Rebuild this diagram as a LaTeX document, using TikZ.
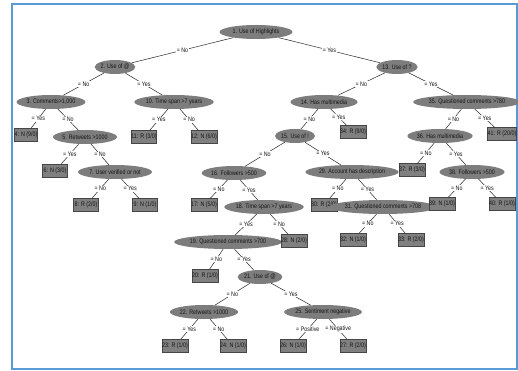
\documentclass[tikz,border=0pt]{standalone}
\usepackage{fontspec}
\newfontfamily\nfont[FakeStretch=0.82]{Liberation Sans}
\usetikzlibrary{shapes.geometric}
\definecolor{frameblue}{RGB}{91,155,213}
\definecolor{ellgray}{RGB}{125,125,125}
\definecolor{boxgray}{RGB}{128,128,128}
\definecolor{boxline}{RGB}{70,70,70}
\definecolor{txt}{RGB}{20,20,20}
\begin{document}
\begin{tikzpicture}[x=1pt,y=-1pt,
  every node/.style={font=\nfont\fontsize{6.5}{7}\selectfont, text=txt},
  dec/.style={ellipse, fill=ellgray, minimum height=14pt, inner sep=0pt},
  leaf/.style={rectangle, fill=boxgray, draw=boxline, line width=0.4pt, minimum width=25pt, minimum height=13pt, inner sep=0pt},
  edge/.style={draw=black!85, line width=0.5pt},
  lab/.style={fill=white, inner sep=0.6pt}]
\useasboundingbox (0,0) rectangle (518,371);
\draw[frameblue, line width=1.6pt] (12,4) rectangle (517,369);

% decision nodes and leaves
\node[dec, minimum width=73pt] (n1) at (256,32) {1. Use of Highlights};
\node[dec, minimum width=40pt] (n2) at (115,67) {2. Use of @};
\node[dec, minimum width=41pt] (n13) at (397,67) {13. Use of ?};
\node[dec, minimum width=59pt] (n3) at (51,102) {3. Comments>1,000};
\node[dec, minimum width=79pt] (n10) at (174,102) {10. Time span >7 years};
\node[dec, minimum width=67pt] (n14) at (324,102) {14. Has multimedia};
\node[dec, minimum width=100pt] (n35) at (467,102) {35. Questioned comments >780};
\node[leaf, minimum width=22pt] (n4) at (26,135) {4: N (9/0)};
\node[dec, minimum width=64pt] (n5) at (85,137) {5. Retweets >1000};
\node[leaf] (n11) at (144,137) {11: R (3/0)};
\node[leaf] (n12) at (204,137) {12: N (6/0)};
\node[dec, minimum width=40pt] (n15) at (295,136) {15. Use of !};
\node[leaf] (n34) at (353,132) {34: R (9/0)};
\node[dec, minimum width=65pt] (n36) at (440,136) {36. Has multimedia};
\node[leaf, minimum width=28pt] (n41) at (502,134) {41: R (20/0)};
\node[leaf] (n6) at (55,171) {6: N (3/0)};
\node[dec, minimum width=74pt] (n7) at (115,172) {7. User verified or not};
\node[dec, minimum width=62pt] (n16) at (234,173) {16. Followers >500};
\node[dec, minimum width=91pt] (n29) at (352,172) {29. Account has description};
\node[leaf] (n37) at (412,170) {37: R (3/0)};
\node[dec, minimum width=65pt] (n38) at (472,172) {38. Followers >500};
\node[leaf] (n8) at (86,205) {8: R (2/0)};
\node[leaf] (n9) at (145,205) {9: N (1/0)};
\node[leaf] (n17) at (204,205) {17: N (5/0)};
\node[dec, minimum width=79pt] (n18) at (264,207) {18. Time span >7 years};
\node[leaf, minimum width=26pt] (n30) at (324,205) {30: R (2/0)};
\node[dec, minimum width=97pt] (n31) at (383,207) {31. Questioned comments >708};
\node[leaf] (n39) at (442,204) {39: N (1/0)};
\node[leaf] (n40) at (502,204) {40: R (1/0)};
\node[dec, minimum width=100pt] (n19) at (228,242) {19. Questioned comments >700};
\node[leaf] (n28) at (294,241) {28: N (2/0)};
\node[leaf] (n32) at (353,240) {32: N (1/0)};
\node[leaf] (n33) at (411,240) {33: R (2/0)};
\node[leaf] (n20) at (205,276) {20: R (1/0)};
\node[dec, minimum width=37pt] (n21) at (260,277) {21. Use of @};
\node[dec, minimum width=68pt] (n22) at (204,312) {22. Retweets >1000};
\node[dec, minimum width=77pt] (n25) at (323,312) {25. Sentiment negative};
\node[leaf] (n23) at (175,346) {23: R (1/0)};
\node[leaf] (n24) at (233,346) {24: N (1/0)};
\node[leaf] (n26) at (293,346) {26: N (1/0)};
\node[leaf] (n27) at (353,346) {27: R (2/0)};

% connectors
\draw[edge] (n1) -- node[lab]{= No} (n2);
\draw[edge] (n1) -- node[lab]{= Yes} (n13);
\draw[edge] (n2) -- node[lab]{= No} (n3);
\draw[edge] (n2) -- node[lab]{= Yes} (n10);
\draw[edge] (n13) -- node[lab]{= No} (n14);
\draw[edge] (n13) -- node[lab]{= Yes} (n35);
\draw[edge] (n3) -- node[lab]{= Yes} (n4);
\draw[edge] (n3) -- node[lab]{= No} (n5);
\draw[edge] (n10) -- node[lab]{= Yes} (n11);
\draw[edge] (n10) -- node[lab]{= No} (n12);
\draw[edge] (n14) -- node[lab]{= No} (n15);
\draw[edge] (n14) -- node[lab]{= Yes} (n34);
\draw[edge] (n35) -- node[lab]{= No} (n36);
\draw[edge] (n35) -- node[lab]{= Yes} (n41);
\draw[edge] (n5) -- node[lab]{= Yes} (n6);
\draw[edge] (n5) -- node[lab]{= No} (n7);
\draw[edge] (n15) -- node[lab]{= No} (n16);
\draw[edge] (n15) -- node[lab]{= Yes} (n29);
\draw[edge] (n36) -- node[lab]{= No} (n37);
\draw[edge] (n36) -- node[lab]{= Yes} (n38);
\draw[edge] (n7) -- node[lab]{= No} (n8);
\draw[edge] (n7) -- node[lab]{= Yes} (n9);
\draw[edge] (n16) -- node[lab]{= No} (n17);
\draw[edge] (n16) -- node[lab]{= Yes} (n18);
\draw[edge] (n29) -- node[lab]{= No} (n30);
\draw[edge] (n29) -- node[lab]{= Yes} (n31);
\draw[edge] (n38) -- node[lab]{= No} (n39);
\draw[edge] (n38) -- node[lab]{= Yes} (n40);
\draw[edge] (n18) -- node[lab]{= Yes} (n19);
\draw[edge] (n18) -- node[lab]{= No} (n28);
\draw[edge] (n31) -- node[lab]{= No} (n32);
\draw[edge] (n31) -- node[lab]{= Yes} (n33);
\draw[edge] (n19) -- node[lab]{= No} (n20);
\draw[edge] (n19) -- node[lab]{= Yes} (n21);
\draw[edge] (n21) -- node[lab]{= No} (n22);
\draw[edge] (n21) -- node[lab]{= Yes} (n25);
\draw[edge] (n22) -- node[lab]{= Yes} (n23);
\draw[edge] (n22) -- node[lab]{= No} (n24);
\draw[edge] (n25) -- node[lab]{= Positive} (n26);
\draw[edge] (n25) -- node[lab]{= Negative} (n27);
\end{tikzpicture}
\end{document}
